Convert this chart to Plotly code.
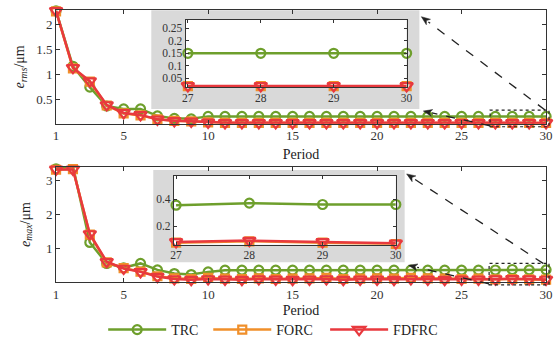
import plotly.graph_objects as go

# ---------------- data ----------------
periods = list(range(1, 31))
inset_periods = [27, 28, 29, 30]

trc_rms = [2.28, 1.16, 0.74, 0.36, 0.30, 0.30, 0.16, 0.11, 0.10, 0.15,
           0.15, 0.15, 0.15, 0.15, 0.15, 0.15, 0.15, 0.15, 0.15, 0.15,
           0.15, 0.15, 0.15, 0.15, 0.15, 0.15, 0.15, 0.15, 0.15, 0.15]
forc_rms = [2.27, 1.12, 0.85, 0.37, 0.21, 0.17, 0.09, 0.06, 0.05, 0.03,
            0.02, 0.02, 0.02, 0.02, 0.02, 0.02, 0.02, 0.02, 0.02, 0.02,
            0.02, 0.02, 0.02, 0.02, 0.02, 0.02, 0.018, 0.018, 0.018, 0.018]
fdfrc_rms = [2.28, 1.13, 0.86, 0.38, 0.22, 0.18, 0.09, 0.06, 0.05, 0.03,
             0.02, 0.02, 0.02, 0.02, 0.02, 0.02, 0.02, 0.02, 0.02, 0.02,
             0.02, 0.02, 0.02, 0.02, 0.02, 0.02, 0.019, 0.019, 0.019, 0.019]

trc_max = [3.35, 3.42, 1.17, 0.55, 0.42, 0.55, 0.36, 0.25, 0.22, 0.30,
           0.35, 0.35, 0.35, 0.35, 0.35, 0.35, 0.35, 0.35, 0.35, 0.35,
           0.35, 0.35, 0.35, 0.35, 0.35, 0.35, 0.355, 0.37, 0.36, 0.36]
forc_max = [3.32, 3.34, 1.40, 0.58, 0.41, 0.31, 0.17, 0.11, 0.09, 0.12,
            0.10, 0.09, 0.11, 0.09, 0.10, 0.11, 0.12, 0.09, 0.10, 0.11,
            0.10, 0.12, 0.11, 0.10, 0.09, 0.10, 0.08, 0.09, 0.08, 0.07]
fdfrc_max = [3.33, 3.33, 1.42, 0.60, 0.40, 0.30, 0.16, 0.09, 0.07, 0.09,
             0.08, 0.07, 0.09, 0.08, 0.07, 0.08, 0.09, 0.07, 0.08, 0.08,
             0.07, 0.09, 0.08, 0.07, 0.08, 0.08, 0.085, 0.095, 0.085, 0.075]

x_ticks = [1, 5, 10, 15, 20, 25, 30]
x_ticklabels = ["1", "5", "10", "15", "20", "25", "30"]

# ---------------- style ----------------
W, H = 556, 346
GREEN = "#6E9F2C"
ORANGE = "#F08F2A"
RED = "#E8393E"
AX = "#333333"
FONT = "Liberation Serif"


def px(x):
    return x / W


def py(y):
    return 1 - y / H


series = [
    ("TRC", GREEN, "circle-open", 9, "legend"),
    ("FORC", ORANGE, "square-open", 8, "legend2"),
    ("FDFRC", RED, "triangle-down-open", 11, "legend3"),
]

fig = go.Figure()


def add_set(vals, xs, xa, ya, show):
    for (name, col, sym, sz, lg), v in zip(series, vals):
        fig.add_trace(go.Scatter(
            x=xs, y=v, name=name, mode="lines+markers",
            line=dict(color=col, width=2.5),
            marker=dict(symbol=sym, size=sz, color=col, line=dict(color=col, width=2.2)),
            xaxis=xa, yaxis=ya, showlegend=show, legend=lg, cliponaxis=False,
        ))


add_set([trc_rms, forc_rms, fdfrc_rms], periods, "x", "y", True)
add_set([trc_max, forc_max, fdfrc_max], periods, "x2", "y2", False)
add_set([trc_rms[-4:], forc_rms[-4:], fdfrc_rms[-4:]], inset_periods, "x3", "y3", False)
add_set([trc_max[-4:], forc_max[-4:], fdfrc_max[-4:]], inset_periods, "x4", "y4", False)

axis_common = dict(showgrid=False, zeroline=False, showline=True, linecolor=AX, linewidth=1,
                   mirror="ticks", ticks="inside", tickcolor=AX, ticklen=4,
                   tickfont=dict(family=FONT, size=13, color="#333"))

inset_common = dict(axis_common)
inset_common["tickfont"] = dict(family=FONT, size=11.5, color="#333")
inset_common["ticklen"] = 3

legend_common = dict(orientation="h", xanchor="left", y=py(336), yanchor="middle",
                     font=dict(family=FONT, size=14, color="#222"), itemwidth=58,
                     bgcolor="rgba(0,0,0,0)")

fig.update_layout(
    width=W, height=H, margin=dict(l=0, r=0, t=0, b=0),
    paper_bgcolor="white", plot_bgcolor="rgba(0,0,0,0)",
    font=dict(family=FONT, color="#222"),
    xaxis=dict(axis_common, domain=[px(53), px(552)], range=[1, 30], anchor="y",
               tickvals=x_ticks, ticktext=x_ticklabels,
               title=dict(text="Period", font=dict(size=14, family=FONT), standoff=6)),
    yaxis=dict(axis_common, domain=[py(126), py(10)], range=[0, 2.3], anchor="x",
               tickvals=[0.5, 1, 1.5, 2], ticktext=["0.5", "1", "1.5", "2"],
               title=dict(text="<i>e</i><sub><i>rms</i></sub>/μm", font=dict(size=14, family=FONT), standoff=8)),
    xaxis2=dict(axis_common, domain=[px(53), px(552)], range=[1, 30], anchor="y2",
                tickvals=x_ticks, ticktext=x_ticklabels,
                title=dict(text="Period", font=dict(size=14, family=FONT), standoff=4)),
    yaxis2=dict(axis_common, domain=[py(287), py(170)], range=[0, 3.4], anchor="x2",
                tickvals=[1, 2, 3], ticktext=["1", "2", "3"],
                title=dict(text="<i>e</i><sub><i>max</i></sub>/μm", font=dict(size=14, family=FONT), standoff=12)),
    xaxis3=dict(inset_common, domain=[px(185), px(410)], range=[26.97, 30], anchor="y3",
                tickvals=[27, 28, 29, 30], ticktext=["27", "28", "29", "30"]),
    yaxis3=dict(inset_common, domain=[py(88.5), py(20)], range=[0.015, 0.285], anchor="x3",
                tickvals=[0.05, 0.1, 0.15, 0.2, 0.25], ticktext=["0.05", "0.1", "0.15", "0.2", "0.25"]),
    xaxis4=dict(inset_common, domain=[px(173), px(399)], range=[26.97, 30], anchor="y4",
                tickvals=[27, 28, 29, 30], ticktext=["27", "28", "29", "30"]),
    yaxis4=dict(inset_common, domain=[py(249), py(179)], range=[0.065, 0.57], anchor="x4",
                tickvals=[0.2, 0.4], ticktext=["0.2", "0.4"]),
    legend=dict(legend_common, x=px(101)),
    legend2=dict(legend_common, x=px(208)),
    legend3=dict(legend_common, x=px(327)),
)

shapes = []
# grey inset backgrounds and white plot areas
shapes.append(dict(type="rect", xref="paper", yref="paper", x0=px(150), x1=px(423), y0=py(111), y1=py(10.5),
                   fillcolor="#D9D9D9", line=dict(width=0), layer="below"))
shapes.append(dict(type="rect", xref="paper", yref="paper", x0=px(152), x1=px(408), y0=py(267), y1=py(173),
                   fillcolor="#D9D9D9", line=dict(width=0), layer="below"))
shapes.append(dict(type="rect", xref="paper", yref="paper", x0=px(185), x1=px(410), y0=py(88.5), y1=py(20),
                   fillcolor="white", line=dict(width=0), layer="below"))
shapes.append(dict(type="rect", xref="paper", yref="paper", x0=px(173), x1=px(399), y0=py(249), y1=py(179),
                   fillcolor="white", line=dict(width=0), layer="below"))
# dotted zoom rectangles
shapes.append(dict(type="rect", xref="paper", yref="paper", x0=px(495), x1=px(555), y0=py(129), y1=py(112),
                   line=dict(color="#222", width=1.2, dash="dot")))
shapes.append(dict(type="rect", xref="paper", yref="paper", x0=px(494), x1=px(555), y0=py(290), y1=py(268),
                   line=dict(color="#222", width=1.2, dash="dot")))

arrows = [((551, 112), (425, 17)), ((495, 128), (427, 113)),
          ((549, 268), (410, 177)), ((494, 289), (412, 270))]
for (sx, sy), (hx, hy) in arrows:
    dx, dy = sx - hx, sy - hy
    L = (dx * dx + dy * dy) ** 0.5
    ux, uy = dx / L, dy / L
    bx, by = hx + ux * 9, hy + uy * 9
    shapes.append(dict(type="line", xref="paper", yref="paper", x0=px(sx), y0=py(sy), x1=px(bx), y1=py(by),
                       line=dict(color="#222", width=1.3, dash="dash")))
    # arrowhead triangle
    nx, ny = -uy, ux
    p1 = (hx, hy)
    p2 = (bx + nx * 3.5, by + ny * 3.5)
    p3 = (bx - nx * 3.5, by - ny * 3.5)
    p4 = (hx + ux * 6.5, hy + uy * 6.5)
    path = "M {} {} L {} {} L {} {} L {} {} Z".format(
        px(p1[0]), py(p1[1]), px(p2[0]), py(p2[1]), px(p4[0]), py(p4[1]), px(p3[0]), py(p3[1]))
    shapes.append(dict(type="path", xref="paper", yref="paper", path=path,
                       fillcolor="#222", line=dict(color="#222", width=0.5)))

fig.update_layout(shapes=shapes)

fig.write_html("out.html", post_script="document.body.style.margin='0';",
               config={"displayModeBar": False})
